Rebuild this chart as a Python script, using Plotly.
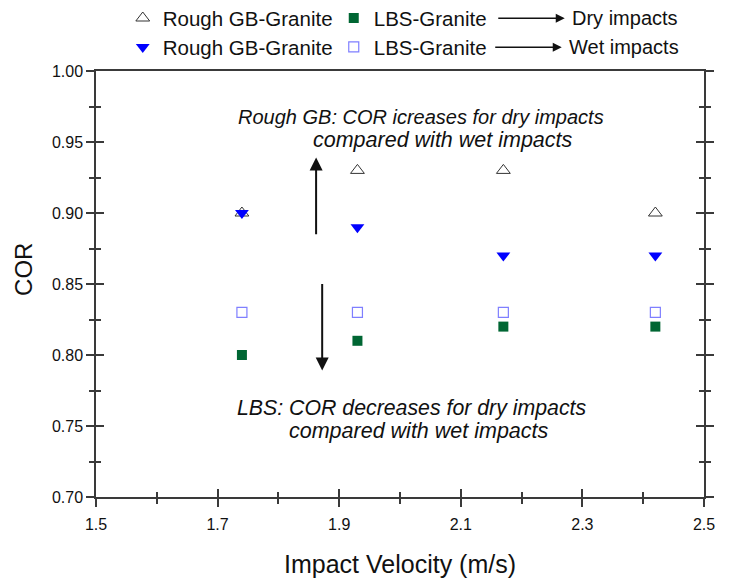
import plotly.graph_objects as go

# Impact velocities (m/s)
velocity = [1.74, 1.93, 2.17, 2.42]

# Coefficient of restitution for each configuration
cor_gb_dry = [0.90, 0.93, 0.93, 0.90]
cor_gb_wet = [0.90, 0.89, 0.87, 0.87]
cor_lbs_dry = [0.80, 0.81, 0.82, 0.82]
cor_lbs_wet = [0.83, 0.83, 0.83, 0.83]

series_name_gb = "Rough GB-Granite"
series_name_lbs = "LBS-Granite"

FONT = "Arial, Liberation Sans, sans-serif"
AXIS_COLOR = "#3a3a3a"

fig = go.Figure()

fig.add_trace(go.Scatter(
    x=velocity, y=cor_gb_dry, mode="markers", name=series_name_gb,
    marker=dict(symbol="triangle-up-open", size=12, color="#333333",
                line=dict(width=1, color="#333333")),
    legend="legend"))
fig.add_trace(go.Scatter(
    x=velocity, y=cor_lbs_dry, mode="markers", name=series_name_lbs,
    marker=dict(symbol="square", size=10, color="#006633"),
    legend="legend"))
fig.add_trace(go.Scatter(
    x=velocity, y=cor_gb_wet, mode="markers", name=series_name_gb,
    marker=dict(symbol="triangle-down", size=12, color="#0000ff"),
    legend="legend2"))
fig.add_trace(go.Scatter(
    x=velocity, y=cor_lbs_wet, mode="markers", name=series_name_lbs,
    marker=dict(symbol="square-open", size=10, color="#7f7fff",
                line=dict(width=1.2)),
    legend="legend2"))

# empty trace so the overlaid tick axes get drawn
fig.add_trace(go.Scatter(x=[], y=[], xaxis="x2", yaxis="y2",
                         showlegend=False, hoverinfo="skip"))

tick_font = dict(family=FONT, size=16, color="#111111")

common = dict(showgrid=False, zeroline=False, tickcolor=AXIS_COLOR,
              tickwidth=1.5)
line_style = dict(linecolor=AXIS_COLOR, linewidth=1.5, showline=True)

fig.update_layout(
    width=730, height=581,
    margin=dict(l=96, r=26, t=71, b=84, autoexpand=False),
    paper_bgcolor="white", plot_bgcolor="white",
    font=dict(family=FONT, color="#111111"),
    xaxis=dict(range=[1.5, 2.5], tick0=1.5, dtick=0.2, tickformat=".1f",
               ticks="outside", ticklen=8, mirror=True,
               tickfont=tick_font, ticklabelstandoff=4,
               minor=dict(dtick=0.1, ticks="outside", ticklen=5,
                          tickcolor=AXIS_COLOR, tickwidth=1.5),
               title=dict(text="Impact Velocity (m/s)",
                          font=dict(family=FONT, size=25), standoff=24),
               **common, **line_style),
    yaxis=dict(range=[0.7, 1.0], tick0=0.7, dtick=0.05, tickformat=".2f",
               ticks="outside", ticklen=8, mirror="ticks",
               tickfont=tick_font,
               minor=dict(dtick=0.025, ticks="outside", ticklen=5,
                          tickcolor=AXIS_COLOR, tickwidth=1.5),
               **common, **line_style),
    xaxis2=dict(range=[1.5, 2.5], tick0=1.5, dtick=0.2, overlaying="x",
                anchor="y2", side="bottom", ticks="inside", ticklen=8,
                showticklabels=False, showline=False,
                minor=dict(dtick=0.1, ticks="inside", ticklen=5,
                           tickcolor=AXIS_COLOR, tickwidth=1.5),
                **common),
    yaxis2=dict(range=[0.7, 1.0], tick0=0.7, dtick=0.05, overlaying="y",
                anchor="x2", side="left", ticks="inside", ticklen=8,
                showticklabels=False, showline=False, mirror="ticks",
                minor=dict(dtick=0.025, ticks="inside", ticklen=5,
                           tickcolor=AXIS_COLOR, tickwidth=1.5),
                **common),
    legend=dict(orientation="h", x=0.044, xanchor="left", y=1.124,
                yanchor="middle", font=dict(family=FONT, size=20.5),
                bgcolor="rgba(0,0,0,0)", entrywidth=166, itemclick=False,
                tracegroupgap=0),
    legend2=dict(orientation="h", x=0.044, xanchor="left", y=1.056,
                 yanchor="middle", font=dict(family=FONT, size=20.5),
                 bgcolor="rgba(0,0,0,0)", entrywidth=166, itemclick=False,
                 tracegroupgap=0),
    showlegend=True,
)

# Vertical axis title
fig.add_annotation(xref="paper", yref="paper", x=-0.1184, y=0.533,
                   text="COR", textangle=-90, showarrow=False,
                   xanchor="center", yanchor="middle",
                   font=dict(family=FONT, size=24))

# Arrows linking each legend row to its impact condition
for y_row, x_head, x_text, label in [(1.124, 0.771, 0.780, "Dry impacts"),
                                     (1.056, 0.766, 0.775, "Wet impacts")]:
    fig.add_annotation(xref="paper", yref="paper", x=x_head, y=y_row,
                       ax=-68, ay=0, text="", showarrow=True, arrowhead=2,
                       arrowsize=1.2, arrowwidth=1.5, arrowcolor="#111111")
    fig.add_annotation(xref="paper", yref="paper", x=x_text, y=y_row,
                       xanchor="left", yanchor="middle", text=label,
                       showarrow=False, font=dict(family=FONT, size=20))

# Trend arrows inside the plot
fig.add_annotation(x=1.862, y=0.939, ax=1.862, ay=0.884, xref="x", yref="y",
                   axref="x", ayref="y", text="", showarrow=True,
                   arrowhead=2, arrowsize=1.3, arrowwidth=2,
                   arrowcolor="#111111")
fig.add_annotation(x=1.872, y=0.789, ax=1.872, ay=0.851, xref="x", yref="y",
                   axref="x", ayref="y", text="", showarrow=True,
                   arrowhead=2, arrowsize=1.3, arrowwidth=2,
                   arrowcolor="#111111")

# Explanatory notes, one line each
notes = [
    (2.0345, 0.9676, "Rough GB: COR icreases for dry impacts", 20),
    (2.0707, 0.9514, "compared with wet impacts", 21.5),
    (2.0197, 0.7627, "LBS: COR decreases for dry impacts", 21.3),
    (2.0312, 0.7465, "compared with wet impacts", 21.5),
]
for nx, ny, txt, fs in notes:
    fig.add_annotation(x=nx, y=ny, xref="x", yref="y", xanchor="center",
                       yanchor="middle", showarrow=False,
                       text="<i>" + txt + "</i>",
                       font=dict(family=FONT, size=fs))

fig.write_html("out.html")
